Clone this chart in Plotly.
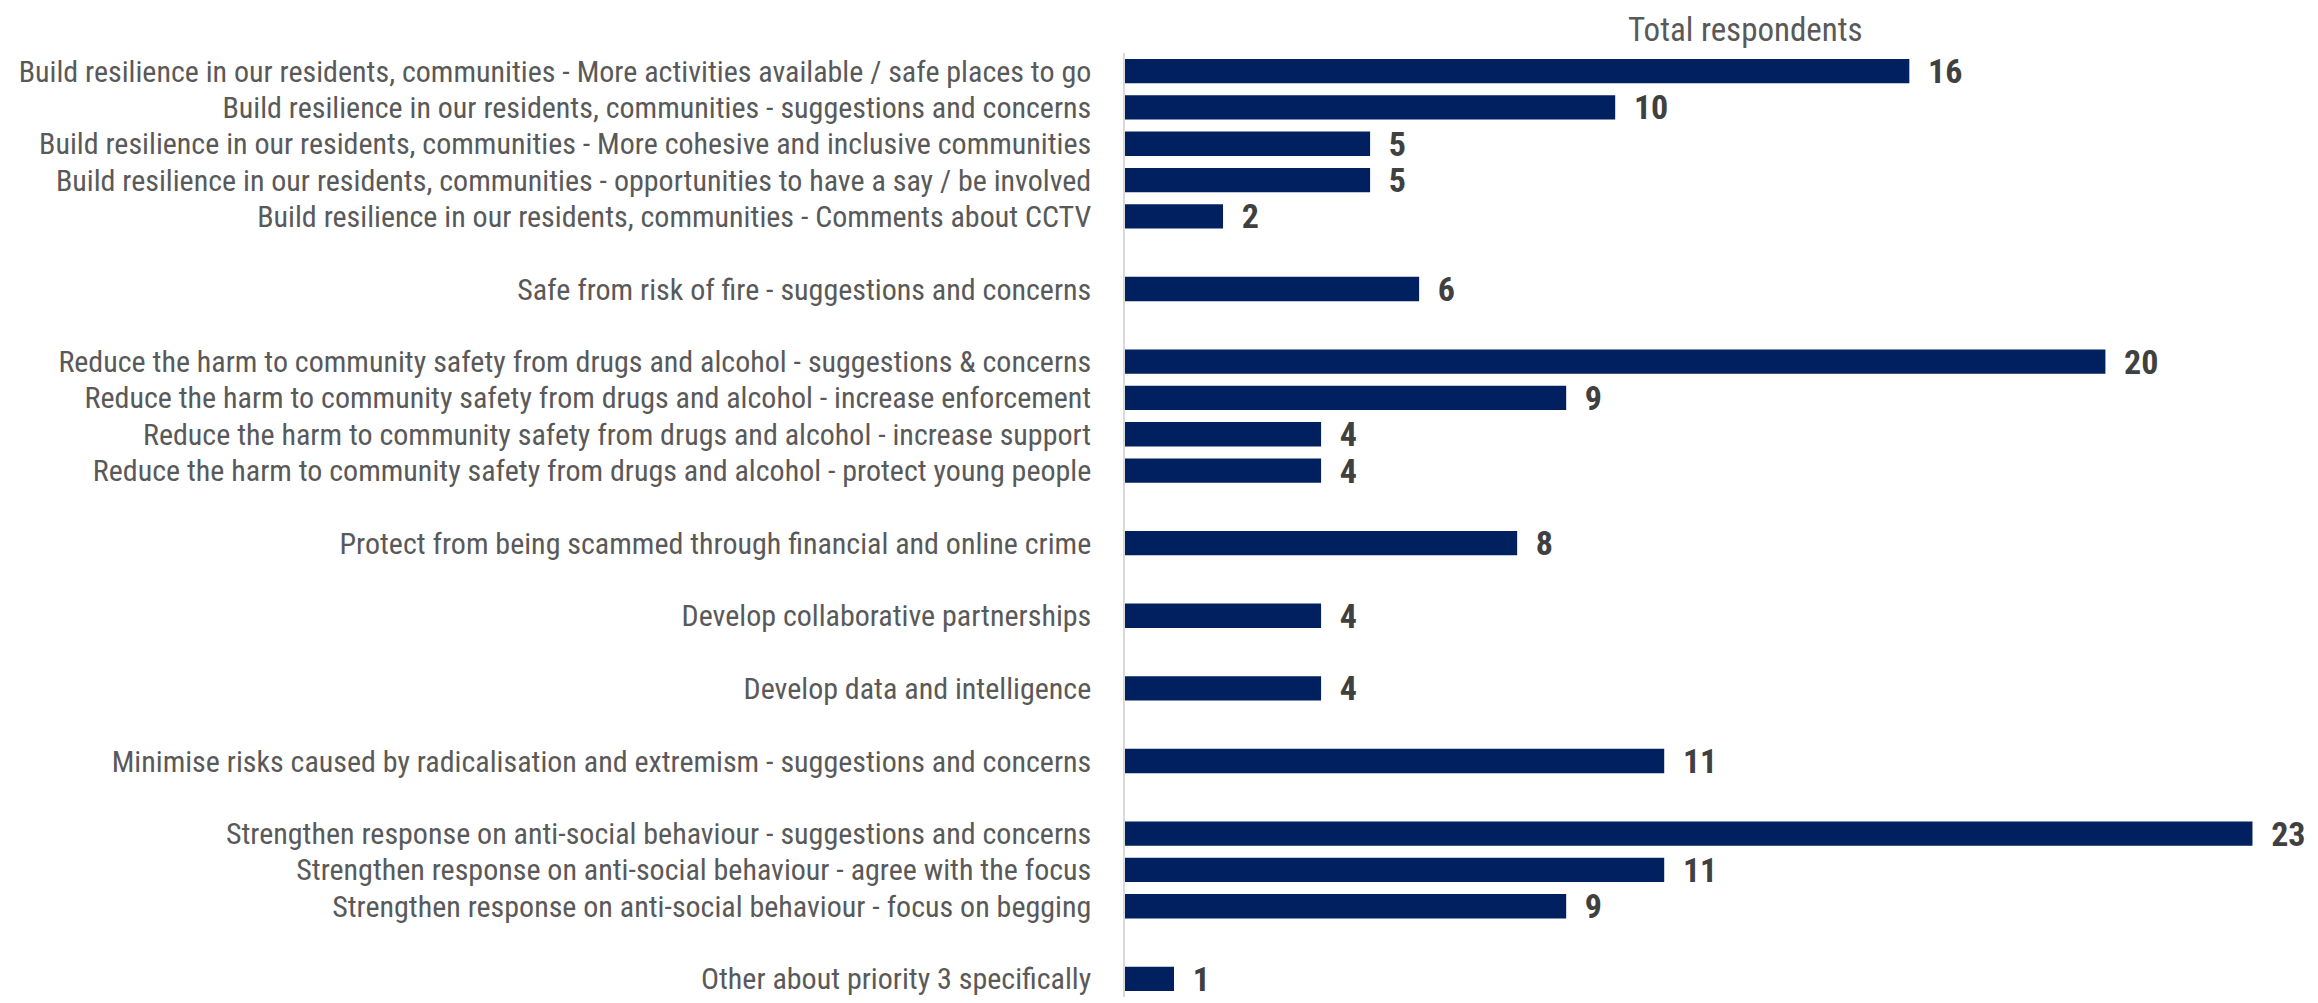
import plotly.graph_objects as go

categories = [
    "Build resilience in our residents, communities - More activities available / safe places to go",
    "Build resilience in our residents, communities - suggestions and concerns",
    "Build resilience in our residents, communities - More cohesive and inclusive communities",
    "Build resilience in our residents, communities - opportunities to have a say / be involved",
    "Build resilience in our residents, communities - Comments about CCTV",
    " ",
    "Safe from risk of fire - suggestions and concerns",
    "  ",
    "Reduce the harm to community safety from drugs and alcohol - suggestions & concerns",
    "Reduce the harm to community safety from drugs and alcohol - increase enforcement",
    "Reduce the harm to community safety from drugs and alcohol - increase support",
    "Reduce the harm to community safety from drugs and alcohol - protect young people",
    "   ",
    "Protect from being scammed through financial and online crime",
    "    ",
    "Develop collaborative partnerships",
    "     ",
    "Develop data and intelligence",
    "      ",
    "Minimise risks caused by radicalisation and extremism - suggestions and concerns",
    "       ",
    "Strengthen response on anti-social behaviour - suggestions and concerns",
    "Strengthen response on anti-social behaviour - agree with the focus",
    "Strengthen response on anti-social behaviour - focus on begging",
    "        ",
    "Other about priority 3 specifically",
]

values = [16, 10, 5, 5, 2, None, 6, None, 20, 9, 4, 4, None, 8, None, 4, None, 4, None, 11, None, 23, 11, 9, None, 1]

title_text = "Total respondents"

FONT = "Liberation Sans Narrow, Roboto Condensed, Lato, sans-serif"

fig = go.Figure(
    go.Bar(
        x=values,
        y=categories,
        orientation="h",
        marker=dict(color="#002060", line=dict(width=0)),
        text=[("" if v is None else "\u00a0\u00a0" + str(v)) for v in values],
        textposition="outside",
        constraintext="none",
        textfont=dict(family=FONT, size=34, color="#404040", weight="bold"),
        cliponaxis=False,
        hoverinfo="skip",
    )
)

fig.update_layout(
    width=2318,
    height=1003,
    paper_bgcolor="white",
    plot_bgcolor="white",
    margin=dict(l=1117, r=0, t=45, b=14),
    bargap=0.33,
    showlegend=False,
    title=dict(
        text=title_text,
        font=dict(family=FONT, size=33, color="#595959"),
        xref="container", x=0.7495, xanchor="center",
        yref="container", y=0.979, yanchor="middle",
    ),
)

fig.update_xaxes(
    range=[0, 24.5],
    showgrid=False,
    zeroline=False,
    showticklabels=False,
    showline=False,
)

fig.update_yaxes(
    type="category",
    autorange="reversed",
    showgrid=False,
    zeroline=False,
    showline=True,
    linecolor="#d9d9d9",
    linewidth=1.5,
    ticks="outside",
    ticklen=26,
    tickcolor="rgba(0,0,0,0)",
    tickfont=dict(family=FONT, size=30, color="#595959"),
)

fig.write_html("out.html")
